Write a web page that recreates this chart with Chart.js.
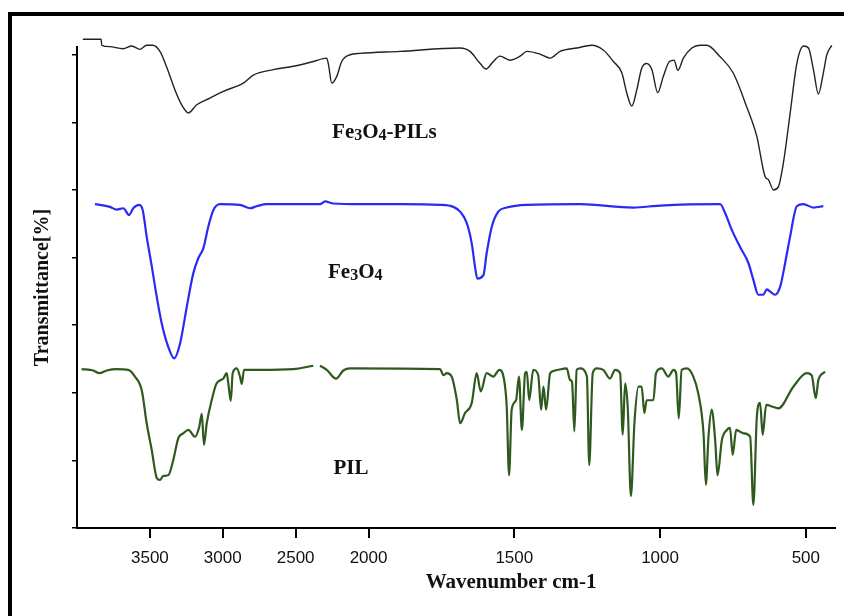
<!DOCTYPE html>
<html>
<head>
    <title>FTIR spectra</title>
    <script src="https://cdn.jsdelivr.net/npm/chart.js"></script>
    <style>
        body { margin: 0; background: #fff; overflow: hidden; }
        #frame { position: absolute; left: 8px; top: 12px; width: 900px; height: 700px; border: 4px solid #000; }
        #ftirChart { position: absolute; left: 0; top: 0; }
    </style>
</head>
<body>
    <div id="frame"></div>
    <canvas id="ftirChart" width="844" height="616"></canvas>

    <script>
        // x axis ticks (wavenumber, cm-1)
        const tickWaves = [3500, 3000, 2500, 2000, 1500, 1000, 500];
        const tickLabels = ['3500', '3000', '2500', '2000', '1500', '1000', '500'];

        // Fe3O4-PILs (black)
        const pilsWave = [3960, 3835, 3830, 3774, 3684, 3625, 3568, 3522, 3481, 3431, 3385, 3328, 3282, 3236, 3179, 3088, 2996, 2859, 2790, 2653,
            2516, 2379, 2287, 2276, 2252, 2218, 2184, 2127, 2058, 1892, 1686, 1652, 1617, 1597, 1572, 1549, 1515, 1480, 1457, 1412,
            1377, 1343, 1286, 1234, 1195, 1160, 1131, 1114, 1097, 1080, 1063, 1046, 1028, 1008, 989, 968, 952, 939, 920, 891,
            863, 840, 794, 749, 703, 668, 640, 628, 611, 594, 577, 554, 531, 508, 491, 474, 457, 440, 428, 411];
        const pilsT = [7.23, 7.23, 7.14, 7.12, 7.09, 7.13, 7.08, 7.14, 7.14, 7.05, 6.82, 6.48, 6.26, 6.14, 6.26, 6.36, 6.46, 6.58, 6.70, 6.78,
            6.83, 6.90, 6.95, 6.87, 6.58, 6.68, 6.90, 7.00, 7.02, 7.05, 7.10, 7.05, 6.87, 6.79, 6.90, 6.98, 6.92, 6.98, 7.05, 7.01,
            6.95, 7.05, 7.10, 7.14, 7.07, 6.90, 6.73, 6.43, 6.24, 6.48, 6.80, 6.87, 6.78, 6.44, 6.68, 6.90, 6.92, 6.77, 6.95, 7.10,
            7.14, 7.14, 6.97, 6.73, 6.23, 5.79, 5.20, 5.15, 5.00, 5.05, 5.40, 6.13, 6.87, 7.13, 7.10, 6.78, 6.42, 6.73, 7.00, 7.14];

        // Fe3O4 (blue)
        const feWave = [3877, 3774, 3728, 3682, 3643, 3614, 3573, 3549, 3522, 3487, 3453, 3419, 3374, 3334, 3293, 3247, 3202, 3168, 3133, 3099,
            3065, 3019, 2882, 2813, 2767, 2698, 2333, 2298, 2242, 2058, 1892, 1755, 1709, 1686, 1663, 1646, 1635, 1627, 1606, 1595,
            1577, 1555, 1526, 1457, 1274, 1092, 1000, 794, 777, 754, 726, 697, 680, 663, 646, 634, 623, 606, 588, 571,
            554, 531, 508, 474, 440];
        const feT = [4.79, 4.75, 4.71, 4.73, 4.63, 4.73, 4.78, 4.70, 4.31, 3.87, 3.42, 3.03, 2.68, 2.51, 2.73, 3.27, 3.77, 3.99, 4.14, 4.46,
            4.70, 4.79, 4.78, 4.73, 4.76, 4.79, 4.79, 4.83, 4.80, 4.79, 4.79, 4.78, 4.75, 4.68, 4.51, 4.21, 3.87, 3.69, 3.74, 4.06,
            4.46, 4.68, 4.74, 4.78, 4.79, 4.74, 4.77, 4.79, 4.66, 4.41, 4.16, 3.92, 3.67, 3.45, 3.45, 3.53, 3.50, 3.45, 3.57, 3.92,
            4.31, 4.76, 4.79, 4.74, 4.76];

        // PIL (green), null = gap in the trace
        const pilWave = [3968, 3888, 3847, 3796, 3728, 3648, 3602, 3556, 3522, 3487, 3453, 3431, 3408, 3374, 3339, 3305, 3271, 3236, 3190, 3161,
            3144, 3129, 3110, 3076, 3042, 2996, 2973, 2962, 2945, 2932, 2904, 2882, 2870, 2854, 2744, 2516, 2379, 2356, 2333, 2287,
            2223, 2173, 2127, 1755, 1743, 1732, 1715, 1697, 1686, 1669, 1646, 1629, 1615, 1595, 1572, 1551, 1535, 1526, 1518, 1509,
            1494, 1484, 1474, 1463, 1457, 1449, 1435, 1418, 1408, 1400, 1391, 1377, 1360, 1320, 1309, 1302, 1294, 1286, 1274, 1251,
            1243, 1231, 1217, 1195, 1172, 1154, 1137, 1128, 1120, 1111, 1100, 1088, 1074, 1063, 1054, 1046, 1023, 1014, 994, 972,
            954, 945, 936, 926, 908, 886, 869, 851, 843, 834, 823, 811, 803, 788, 771, 760, 751, 739, 714, 691,
            680, 668, 657, 648, 636, 611, 594, 543, 497, 480, 466, 457, 434];
        const pilT = [2.35, 2.33, 2.29, 2.33, 2.35, 2.34, 2.24, 2.04, 1.55, 1.15, 0.74, 0.71, 0.77, 0.78, 1.01, 1.33, 1.40, 1.45, 1.35, 1.50,
            1.69, 1.23, 1.55, 1.89, 2.14, 2.21, 2.29, 2.14, 1.88, 2.29, 2.36, 2.24, 2.13, 2.34, 2.34, 2.35, 2.40, null, 2.40, 2.34,
            2.21, 2.33, 2.36, 2.35, 2.26, 2.29, 2.24, 1.89, 1.55, 1.70, 1.85, 2.29, 2.02, 2.29, 2.24, 2.34, 2.19, 1.79, 0.78, 1.75,
            1.89, 2.24, 1.45, 2.29, 2.31, 1.89, 2.34, 2.26, 1.75, 2.09, 1.75, 2.29, 2.33, 2.36, 2.19, 2.16, 1.43, 2.34, 2.36, 2.24,
            0.93, 2.29, 2.36, 2.34, 2.21, 2.34, 2.29, 1.38, 2.14, 1.79, 0.47, 1.55, 2.09, 2.09, 1.70, 1.89, 1.89, 2.29, 2.36, 2.24,
            2.34, 2.29, 1.62, 2.34, 2.36, 2.24, 1.99, 1.40, 0.64, 1.35, 1.75, 1.30, 0.78, 1.30, 1.45, 1.48, 1.08, 1.45, 1.40, 1.35,
            0.34, 1.65, 1.85, 1.38, 1.82, 1.79, 1.77, 2.09, 2.29, 2.26, 1.92, 2.19, 2.31];

        const curveNames = ['Fe3O4-PILs', 'Fe3O4', 'PIL'];
        const xTitle = 'Wavenumber cm-1';

        // the axis is squeezed by half above 2000 cm-1
        function toU(w) {
            return w > 2000 ? 2000 + (w - 2000) / 2 : w;
        }

        function toPoints(waves, vals) {
            return waves.map((w, i) => ({ x: toU(w), y: vals[i] }));
        }

        const serif = "'Liberation Serif', 'Times New Roman', serif";

        // curve names (subscript digits) and the x title, which sits off-centre
        const textLayer = {
            id: 'textLayer',
            afterDatasetsDraw(chart) {
                let ctx = chart.ctx;
                let xs = chart.scales.x, ys = chart.scales.y;
                let spots = [[2250, 5.77], [2278, 3.70], [2241, 0.80]];
                ctx.save();
                ctx.fillStyle = '#111';
                ctx.textBaseline = 'alphabetic';
                curveNames.forEach((name, i) => {
                    let x = xs.getPixelForValue(toU(spots[i][0]));
                    let y = ys.getPixelForValue(spots[i][1]);
                    for (let ch of name) {
                        let sub = /[0-9]/.test(ch) && i < 2;
                        ctx.font = 'bold ' + (sub ? 16 : 21) + 'px ' + serif;
                        ctx.fillText(ch, x, y + (sub ? 2 : 0));
                        x += ctx.measureText(ch).width;
                    }
                });
                ctx.font = 'bold 21px ' + serif;
                ctx.textAlign = 'center';
                ctx.textBaseline = 'middle';
                ctx.fillText(xTitle, xs.getPixelForValue(1511), chart.chartArea.bottom + 55);
                ctx.restore();
            }
        };

        let ctx = document.getElementById('ftirChart').getContext('2d');
        let myChart = new Chart(ctx, {
            type: 'line',
            data: {
                datasets: [
                    { label: curveNames[0], data: toPoints(pilsWave, pilsT), borderColor: '#222', borderWidth: 1.4 },
                    { label: curveNames[1], data: toPoints(feWave, feT), borderColor: '#2a2af5', borderWidth: 2.2 },
                    { label: curveNames[2], data: toPoints(pilWave, pilT), borderColor: '#2e5a1e', borderWidth: 2.2 }
                ]
            },
            options: {
                responsive: false,
                animation: false,
                layout: { padding: { top: 47, right: 9, left: 0, bottom: 0 } },
                elements: {
                    point: { radius: 0 },
                    line: { cubicInterpolationMode: 'monotone' }
                },
                datasets: { line: { clip: false, spanGaps: false } },
                plugins: { legend: { display: false }, tooltip: { enabled: false } },
                scales: {
                    x: {
                        type: 'linear',
                        reverse: true,
                        min: 400,
                        max: 3000,
                        afterBuildTicks: axis => { axis.ticks = tickWaves.map(w => ({ value: toU(w) })); },
                        afterFit: axis => { axis.height = 88; },
                        ticks: {
                            autoSkip: false,
                            maxRotation: 0,
                            padding: 10,
                            color: '#111',
                            font: { family: "'Liberation Sans Narrow', 'Arial Narrow', 'Liberation Sans', sans-serif", size: 17 },
                            callback: (value, index) => tickLabels[index]
                        },
                        grid: { drawOnChartArea: false, tickLength: 10, color: '#000', lineWidth: 2 },
                        border: { color: '#000', width: 2 }
                    },
                    y: {
                        min: 0,
                        max: 7.115,
                        afterBuildTicks: axis => { axis.ticks = [0, 1, 2, 3, 4, 5, 6, 7].map(v => ({ value: v })); },
                        afterFit: axis => { axis.width = 77; },
                        ticks: { display: false },
                        grid: { drawOnChartArea: false, tickLength: 5, color: '#000', lineWidth: 1.5 },
                        border: { color: '#000', width: 2 },
                        title: {
                            display: true,
                            text: 'Transmittance[%]',
                            color: '#111',
                            font: { family: serif, weight: 'bold', size: 20 },
                            padding: { top: 31, bottom: 0 }
                        }
                    }
                }
            },
            plugins: [textLayer]
        });
    </script>
</body>
</html>
